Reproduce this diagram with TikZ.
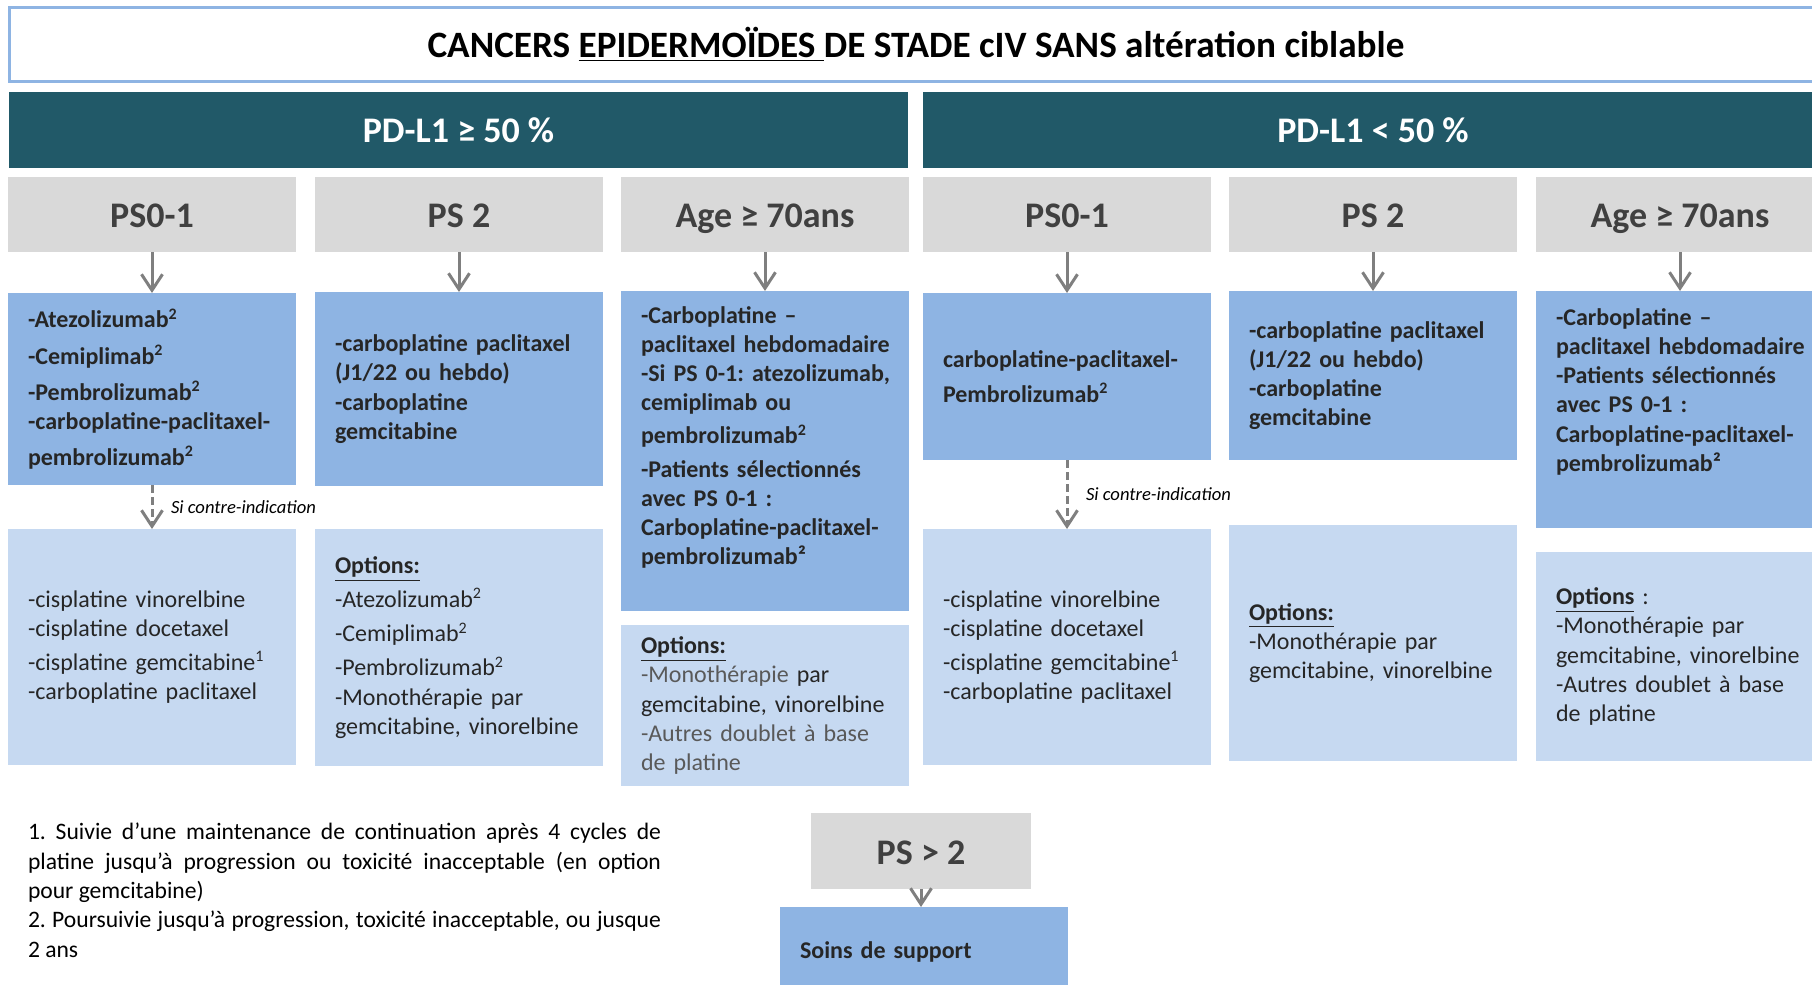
\documentclass[tikz,border=0pt]{standalone}
\usepackage{fontspec}
\setmainfont{Carlito}
\usepackage{xcolor}
\usepackage{tikz}
\usetikzlibrary{positioning,arrows.meta}
\definecolor{FrameBlue}{HTML}{8EB4E3}
\definecolor{BandTeal}{HTML}{215968}
\definecolor{HeadGray}{HTML}{D9D9D9}
\definecolor{HeadText}{HTML}{404040}
\definecolor{DrugBlue}{HTML}{8EB4E3}
\definecolor{OptBlue}{HTML}{C6D9F1}
\definecolor{ArrowGray}{HTML}{7F7F7F}
\definecolor{InkDark}{HTML}{262626}
\definecolor{InkGray}{HTML}{595959}
\newcommand{\expo}[1]{\textsuperscript{#1}}
\newcommand{\opts}{\underline{\textbf{Options:}}}
\hyphenpenalty=10000
\frenchspacing

\begin{document}
\begin{tikzpicture}[x=0.5pt, y=-0.5pt, >={Straight Barb[length=8pt,width=10.5pt]},
                    every node/.style={inner sep=0pt, outer sep=0pt},
                    band/.style={fill=BandTeal, text=white, minimum width=450pt, minimum height=38pt,
                                 font=\fontsize{18}{22}\selectfont\bfseries},
                    head/.style={fill=HeadGray, text=HeadText, minimum width=144pt, minimum height=37.5pt,
                                 text height=16pt, text depth=2.6pt,
                                 font=\fontsize{18}{22}\selectfont\bfseries},
                    drug/.style={fill=DrugBlue, text=InkDark, text width=124pt, inner xsep=10pt, align=left,
                                 font=\fontsize{12}{14.6}\selectfont\bfseries},
                    opt/.style={fill=OptBlue, text=InkDark, text width=124pt, inner xsep=10pt, align=left,
                                font=\fontsize{12}{14.6}\selectfont},
                    arr/.style={->, draw=ArrowGray, line width=1.5pt},
                    dasharr/.style={arr, dash pattern=on 4pt off 2pt},
                    note/.style={font=\fontsize{9.3}{11}\selectfont\itshape, text=black}]
\clip (0,0) rectangle (1812,985);
\node[draw=FrameBlue, line width=1.5pt, minimum width=906.5pt, minimum height=37pt,
      font=\fontsize{18.6}{22}\selectfont\bfseries] (title) at (916,44.5)
      {CANCERS \underline{EPIDERMOÏDES\ }DE STADE cIV SANS altération ciblable};
\node[band, minimum width=449.5pt] (hi) at (458.5,130) {PD-L1 ≥ 50 \%};
\node[band] (lo) at (1373,130) {PD-L1 < 50 \%};

\node[head] (h1) at (152,214.5) {PS0-1};
\node[head, right=9.5pt of h1] (h2) {PS 2};
\node[head, right=9pt of h2] (h3) {Age ≥ 70ans};
\node[head, right=7pt of h3] (h4) {PS0-1};
\node[head, right=9pt of h4] (h5) {PS 2};
\node[head, right=9.5pt of h5] (h6) {Age ≥ 70ans};

\node[drug, minimum height=96pt, below=20.5pt of h1] (b1)
     {-Atezolizumab\expo{2}\\[3.5pt] -Cemiplimab\expo{2}\\[3.5pt] -Pembrolizumab\expo{2}\\
      -carboplatine-paclitaxel-\\[3.5pt] pembrolizumab\expo{2}};
\node[drug, minimum height=97pt, below=20pt of h2] (b2)
     {-carboplatine paclitaxel\\ (J1/22 ou hebdo)\\ -carboplatine\\ gemcitabine};
\node[drug, minimum height=160pt, below=19.5pt of h3] (b3)
     {-Carboplatine –\\ \mbox{paclitaxel hebdomadaire}\\ \mbox{-Si PS 0-1: atezolizumab,}\\ cemiplimab ou\\[2pt]
      pembrolizumab\expo{2}\\[2pt] -Patients sélectionnés\\ avec PS 0-1 :\\ Carboplatine-paclitaxel-\\
      pembrolizumab²\\[1pt]\mbox{}};
\node[drug, minimum height=83.5pt, below=20.5pt of h4] (b4)
     {carboplatine-paclitaxel-\\[3pt] Pembrolizumab\expo{2}};
\node[drug, minimum height=84.5pt, below=19.5pt of h5] (b5)
     {-carboplatine paclitaxel\\ (J1/22 ou hebdo)\\ -carboplatine\\ gemcitabine};
\node[drug, minimum height=118.5pt, below=19.5pt of h6] (b6)
     {-Carboplatine –\\ \mbox{paclitaxel hebdomadaire}\\ -Patients sélectionnés\\ avec PS 0-1 :\\
      Carboplatine-paclitaxel-\\ pembrolizumab²\\[5pt]\mbox{}};

\node[opt, minimum height=118pt, below=22pt of b1] (l1)
     {-cisplatine vinorelbine\\ -cisplatine docetaxel\\[2.5pt] -cisplatine gemcitabine\expo{1}\\
      -carboplatine paclitaxel};
\node[opt, minimum height=118.5pt, below=21.5pt of b2] (l2)
     {\opts\\[2.5pt] -Atezolizumab\expo{2}\\[2.5pt] -Cemiplimab\expo{2}\\[2.5pt] -Pembrolizumab\expo{2}\\
      -Monothérapie par\\ gemcitabine, vinorelbine};
\node[opt, minimum height=80.5pt, below=7pt of b3] (l3)
     {\opts\\ \textcolor{InkGray}{-Monothérapie} par\\ gemcitabine, vinorelbine\\
      \textcolor{InkGray}{-Autres doublet à base}\\ \textcolor{InkGray}{de platine}};
\node[opt, minimum height=118pt, below=34.5pt of b4] (l4)
     {-cisplatine vinorelbine\\ -cisplatine docetaxel\\[2.5pt] -cisplatine gemcitabine\expo{1}\\
      -carboplatine paclitaxel};
\node[opt, minimum height=118pt, below=32.5pt of b5] (l5)
     {\opts\\ -Monothérapie par\\ gemcitabine, vinorelbine};
\node[opt, minimum height=104.5pt, below=12pt of b6] (l6)
     {\underline{\textbf{Options}} :\\ -Monothérapie par\\ gemcitabine, vinorelbine\\
      -Autres doublet à base\\ de platine};

\draw[arr] (h1) -- (b1);
\draw[arr] (h2) -- (b2);
\draw[arr] (h3) -- (b3);
\draw[arr] (h4) -- (b4);
\draw[arr] (h5) -- (b5);
\draw[arr] (h6) -- (b6);
\draw[dasharr] (b1) -- node[note, right=9.5pt] {Si contre-indication} (l1);
\draw[dasharr] (b4) -- node[note, right=9.5pt] {Si contre-indication} (l4);

\node[anchor=north west, text width=316.5pt, align=justify,
      font=\fontsize{11.8}{14.7}\selectfont]
     (notes) at (28,823)
     {1. Suivie d’une maintenance de continuation après 4 cycles de\linebreak platine jusqu’à
      progression ou toxicité inacceptable (en option\linebreak pour gemcitabine)\\
      2. Poursuivie jusqu’à progression, toxicité inacceptable, ou jusque\linebreak 2 ans};
\node[head, minimum width=110pt, minimum height=38pt] (ps3) at (921,851) {PS > 2};
\node[drug, minimum height=45pt, anchor=north] (soins) at (924,907) {Soins de support};
\draw[arr] (ps3.south) -- (ps3.south |- soins.north);
\end{tikzpicture}
\end{document}
